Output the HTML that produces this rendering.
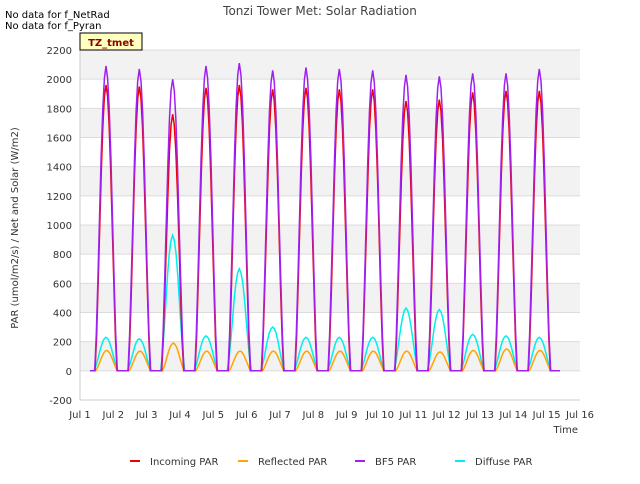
<!DOCTYPE html>
<html><head><meta charset="utf-8"><style>
body{margin:0;background:#fff;font-family:"DejaVu Sans",sans-serif;}
</style></head><body>
<svg id="chart" width="640" height="480" xmlns="http://www.w3.org/2000/svg" font-family="DejaVu Sans, sans-serif">
<rect width="640" height="480" fill="#fff"/>
<text x="320" y="15" text-anchor="middle" font-size="12" fill="#444">Tonzi Tower Met: Solar Radiation</text>
<text x="5" y="18" font-size="10" fill="#000">No data for f_NetRad</text>
<text x="5" y="29" font-size="10" fill="#000">No data for f_Pyran</text>
<g id="grid"></g>
<g id="series"></g>
<g id="axes"></g>
<rect x="80" y="33" width="62" height="17" fill="#ffffc0" stroke="#000"/>
<text x="111" y="46" text-anchor="middle" font-size="10" font-weight="bold" fill="#8b0000">TZ_tmet</text>
<text x="578" y="433" text-anchor="end" font-size="10" fill="#333">Time</text>
<text transform="translate(18,228) rotate(-90)" text-anchor="middle" font-size="10" fill="#333">PAR (umol/m2/s) / Net and Solar (W/m2)</text>
<g id="legend"></g>
</svg>
<script>
const days = [1,2,3,4,5,6,7,8,9,10,11,12,13,14];
const incomingPeaks = [1960,1950,1760,1940,1960,1930,1940,1930,1930,1850,1860,1910,1920,1920];
const bf5Peaks = [2090,2070,2000,2090,2110,2060,2080,2070,2060,2030,2020,2040,2040,2070];
const reflectedPeaks = [140,135,190,135,135,135,135,135,135,135,130,140,150,140];
const diffusePeaks = [230,220,930,240,700,300,230,230,230,430,420,250,240,230];
const dayShape = [0,0.12,0.3,0.5,0.7,0.86,0.96,1,0.96,0.86,0.7,0.5,0.3,0.12,0];
const yTicks = [-200,0,200,400,600,800,1000,1200,1400,1600,1800,2000,2200];
const xTickLabels = ["Jul 1","Jul 2","Jul 3","Jul 4","Jul 5","Jul 6","Jul 7","Jul 8","Jul 9","Jul 10","Jul 11","Jul 12","Jul 13","Jul 14","Jul 15","Jul 16"];
const NS="http://www.w3.org/2000/svg";
const L=80,R=580,T=50,B=400;
function xs(d){return L+(d-1)*(R-L)/15;}
function ys(v){return B-(v+200)*(B-T)/2400;}
function mk(tag,attrs,parent){const e=document.createElementNS(NS,tag);for(const k in attrs)e.setAttribute(k,attrs[k]);parent.appendChild(e);return e;}
const grid=document.getElementById('grid');
const bg=mk('rect',{x:L,y:T,width:R-L,height:B-T,fill:'#fff'},grid);


for(let i=0;i<yTicks.length-1;i++){
  if(i%2===1){
    const r=mk('rect',{x:L,y:ys(yTicks[i+1]),width:R-L,height:ys(yTicks[i])-ys(yTicks[i+1]),fill:'#f2f2f2'},grid);
    
    
  }
}
yTicks.forEach(v=>{const l=mk('line',{x1:L,x2:R,y1:ys(v),y2:ys(v),stroke:'#dcdcdc'},grid);

});
const axes=document.getElementById('axes');
mk('line',{x1:L,x2:L,y1:T,y2:B,stroke:'#ccc'},axes);
mk('line',{x1:L,x2:R,y1:B,y2:B,stroke:'#ccc'},axes);
yTicks.forEach(v=>{const t=mk('text',{x:L-8,y:ys(v)+4,'text-anchor':'end','font-size':10,fill:'#333'},axes);t.textContent=v;

});
xTickLabels.forEach((s,i)=>{const t=mk('text',{x:xs(i+1),y:B+18,'text-anchor':'middle','font-size':10,fill:'#333'},axes);t.textContent=s;

});
function series(peaks,start,len,color,name){
  let pts=[[xs(1.3),ys(0)]];
  days.forEach((d,i)=>{
    dayShape.forEach((s,j)=>{pts.push([xs(d+start+len*j/(dayShape.length-1)),ys(peaks[i]*s)]);});
  });
  pts.push([xs(15.4),ys(0)]);
  const p=mk('polyline',{points:pts.map(p=>p[0].toFixed(1)+','+p[1].toFixed(1)).join(' '),fill:'none',stroke:color,'stroke-width':1.5},document.getElementById('series'));
  
  
}
series(diffusePeaks,0.42,0.72,'#00eeee','diffuse-par-line');
series(reflectedPeaks,0.47,0.66,'#ffa500','reflected-par-line');
series(incomingPeaks,0.45,0.66,'#ee0000','incoming-par-line');
series(bf5Peaks,0.44,0.68,'#a020f0','bf5-par-line');
const legendItems=[["Incoming PAR","#ee0000",130],["Reflected PAR","#ffa500",238],["BF5 PAR","#a020f0",355],["Diffuse PAR","#00eeee",455]];
const lg=document.getElementById('legend');
legendItems.forEach(it=>{
  const g=mk('g',{},lg);
  
  
  mk('line',{x1:it[2],x2:it[2]+10,y1:461,y2:461,stroke:it[1],'stroke-width':2},g);
  const t=mk('text',{x:it[2]+20,y:465,'font-size':10,fill:'#333'},g);t.textContent=it[0];
});
</script>
</body></html>
